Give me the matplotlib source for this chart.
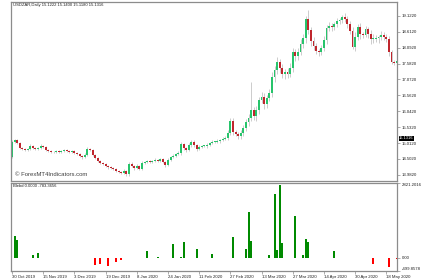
import numpy as np
import matplotlib.pyplot as plt

plt.rcParams['font.family'] = ['Liberation Sans', 'DejaVu Sans']

# daily USDZAR closes
first_open = 14.56
closes = [
    15.05, 15.11, 15.02, 14.85, 14.82, 14.79, 14.82, 14.92, 14.85, 14.82,
    14.85, 14.92, 14.89, 14.79, 14.76, 14.72, 14.72, 14.76, 14.72, 14.76,
    14.79, 14.76, 14.72, 14.76, 14.69, 14.66, 14.60, 14.56, 14.63, 14.82,
    14.79, 14.63, 14.53, 14.43, 14.37, 14.34, 14.27, 14.24, 14.21, 14.18,
    14.11, 14.08, 14.05, 14.11, 14.01, 14.34, 14.27, 14.21, 14.27, 14.18,
    14.37, 14.40, 14.43, 14.40, 14.43, 14.47, 14.43, 14.50, 14.40, 14.30,
    14.47, 14.56, 14.60, 14.66, 14.69, 14.98, 14.85, 14.79, 14.95, 15.05,
    14.95, 14.82, 14.89, 14.92, 14.92, 14.95, 15.02, 15.05, 15.05, 15.08,
    15.11, 15.15, 15.18, 15.34, 15.73, 15.37, 15.31, 15.24, 15.34, 15.50,
    15.70, 15.82, 16.08, 15.89, 16.08, 16.41, 16.50, 16.28, 16.47, 16.63,
    17.15, 17.38, 17.64, 17.44, 17.25, 17.31, 17.25, 17.44, 17.96, 17.83,
    17.96, 18.22, 18.41, 19.03, 18.67, 18.31, 18.15, 17.99, 17.96, 18.09,
    18.35, 18.73, 18.80, 18.77, 18.86, 18.96, 18.99, 19.09, 19.03, 18.86,
    18.64, 18.12, 18.44, 18.77, 18.54, 18.51, 18.70, 18.54, 18.38, 18.38,
    18.41, 18.44, 18.51, 18.44, 18.38, 17.96, 17.64, 17.60, 17.67,
]
upper_wick = [
    0.05, 0.04, 0.04, 0.03, 0.03, 0.04, 0.03, 0.05, 0.03, 0.03,
    0.04, 0.05, 0.03, 0.03, 0.04, 0.03, 0.03, 0.04, 0.03, 0.04,
    0.03, 0.04, 0.03, 0.04, 0.03, 0.03, 0.04, 0.03, 0.05, 0.06,
    0.04, 0.03, 0.04, 0.03, 0.04, 0.03, 0.04, 0.03, 0.03, 0.04,
    0.03, 0.04, 0.03, 0.05, 0.04, 0.06, 0.05, 0.04, 0.06, 0.04,
    0.05, 0.04, 0.03, 0.04, 0.03, 0.05, 0.04, 0.04, 0.03, 0.04,
    0.05, 0.04, 0.05, 0.04, 0.06, 0.07, 0.05, 0.04, 0.06, 0.05,
    0.06, 0.04, 0.05, 0.04, 0.04, 0.05, 0.04, 0.05, 0.04, 0.05,
    0.04, 0.05, 0.06, 0.08, 0.10, 0.08, 0.06, 0.07, 0.08, 0.10,
    0.08, 0.12, 0.90, 0.10, 0.12, 0.10, 0.15, 0.12, 0.10, 0.12,
    0.15, 0.12, 0.15, 0.10, 0.12, 0.10, 0.12, 0.15, 0.12, 0.10,
    0.12, 0.15, 0.12, 0.10, 0.29, 0.10, 0.12, 0.10, 0.08, 0.10,
    0.12, 0.10, 0.12, 0.10, 0.08, 0.10, 0.08, 0.06, 0.12, 0.08,
    0.10, 0.12, 0.15, 0.10, 0.12, 0.08, 0.10, 0.08, 0.12, 0.15,
    0.10, 0.08, 0.12, 0.08, 0.10, 0.08, 0.06, 0.06, 0.05,
]
lower_wick = [
    0.03, 0.04, 0.03, 0.04, 0.03, 0.03, 0.04, 0.03, 0.04, 0.03,
    0.03, 0.04, 0.03, 0.04, 0.03, 0.03, 0.04, 0.03, 0.03, 0.04,
    0.03, 0.03, 0.04, 0.03, 0.04, 0.03, 0.04, 0.05, 0.03, 0.04,
    0.04, 0.03, 0.04, 0.03, 0.04, 0.03, 0.04, 0.05, 0.03, 0.04,
    0.04, 0.03, 0.05, 0.04, 0.06, 0.05, 0.04, 0.06, 0.05, 0.04,
    0.04, 0.03, 0.04, 0.03, 0.04, 0.03, 0.04, 0.03, 0.04, 0.05,
    0.04, 0.05, 0.04, 0.05, 0.04, 0.05, 0.06, 0.05, 0.04, 0.05,
    0.05, 0.06, 0.04, 0.05, 0.04, 0.05, 0.04, 0.05, 0.04, 0.04,
    0.05, 0.04, 0.05, 0.06, 0.08, 0.10, 0.08, 0.10, 0.08, 0.10,
    0.10, 0.12, 0.10, 0.12, 0.15, 0.12, 0.10, 0.15, 0.12, 0.10,
    0.12, 0.15, 0.12, 0.15, 0.12, 0.15, 0.12, 0.10, 0.12, 0.15,
    0.12, 0.10, 0.12, 0.15, 0.12, 0.15, 0.12, 0.10, 0.12, 0.10,
    0.10, 0.12, 0.10, 0.12, 0.10, 0.08, 0.10, 0.08, 0.10, 0.12,
    0.10, 0.08, 0.12, 0.10, 0.15, 0.10, 0.08, 0.12, 0.15, 0.12,
    0.10, 0.15, 0.10, 0.08, 0.10, 0.12, 0.08, 0.06, 0.05,
]

# indicator histogram (bar index, value)
hist_idx = [1, 2, 8, 10, 17, 32, 34, 37, 40, 42, 52, 56, 62, 65, 66, 71, 77,
            85, 90, 91, 92, 99, 101, 102, 103, 104, 109, 112, 113, 114, 124,
            139, 145, 148]
hist_val = [805, 679, 101, 176, -15, -289, -226, -327, -176, -88, 252, 12,
            503, 12, 591, 327, 138, 767, 340, 1723, 629, 101, 2390, 302, 2760,
            553, 1572, 101, 704, 579, 252, -226, -365, -40]

price_ticks = [19.1220, 18.6120, 18.0920, 17.5820, 17.0720, 16.5620,
               16.0420, 15.5320, 15.0120, 14.5020, 13.9820]
last_price = 15.1316
date_idx = [0, 12, 24, 36, 48, 60, 72, 84, 96, 108, 120, 132, 144]
date_labels = ['30 Oct 2019', '15 Nov 2019', '3 Dec 2019', '19 Dec 2019',
               '8 Jan 2020', '24 Jan 2020', '11 Feb 2020', '27 Feb 2020',
               '13 Mar 2020', '27 Mar 2020', '14 Apr 2020', '30 Apr 2020',
               '18 May 2020']

closes = np.array(closes)
opens = np.array([first_open] + list(closes[:-1]))
highs = np.maximum(opens, closes) + np.array(upper_wick)
lows = np.minimum(opens, closes) - np.array(lower_wick)
x = np.arange(len(closes))
up = closes >= opens

bull = '#27c46b'
bear = '#c0262d'
frame = '#8c8c8c'

W, H = 430, 280
fig = plt.figure(figsize=(4.3, 2.8), dpi=100)
ax1 = fig.add_axes([11 / W, 1 - 181 / H, 386 / W, 179 / H])
ax2 = fig.add_axes([11 / W, 1 - 271 / H, 386 / W, 88 / H])

# candles
ax1.vlines(x, lows, highs, color='#c4c4c4', lw=0.6, zorder=1)
body = np.maximum(np.abs(closes - opens), 0.015)
ax1.bar(x, body, bottom=np.minimum(opens, closes), width=0.72,
        color=np.where(up, bull, bear), linewidth=0, zorder=2)

xlim = (-0.385, 148.1)
ax1.set_xlim(xlim)
ax1.set_ylim(13.787, 19.574)
ax1.yaxis.tick_right()
ax1.set_yticks(price_ticks, labels=[f'{p:.4f}' for p in price_ticks])
ax1.set_xticks([])

# histogram
ax2.bar(hist_idx, hist_val, width=0.75,
        color=['#008a00' if v > 0 else '#ff0000' for v in hist_val],
        linewidth=0)
ax2.set_xlim(xlim)
ax2.set_ylim(-499.8578, 2821.2016)
ax2.yaxis.tick_right()
ax2.set_yticks([2821.2016, 0, -499.8578],
               labels=['2821.2016', '0.00', '-499.8578'])
ylabs = ax2.get_yticklabels()
ylabs[0].set_va('top')
ylabs[2].set_va('bottom')
ax2.set_xticks(date_idx, labels=date_labels)
for t in ax2.get_xticklabels():
    t.set_ha('left')

for ax in (ax1, ax2):
    for s in ax.spines.values():
        s.set_color(frame)
        s.set_linewidth(0.9)
    ax.tick_params(labelsize=3.1, length=2, width=0.5, color=frame,
                   pad=1.2, labelcolor='#202020')

fig.text(13 / W, 1 - 5 / H, 'USDZAR,Daily 15.1222 15.1400 15.1180 15.1316',
         fontsize=3, va='center', color='#202020')
fig.text(15 / W, 1 - 174 / H, '\u00a9 ForexMT4Indicators.com',
         fontsize=4.3, va='center', color='#404040')
fig.text(13 / W, 1 - 186 / H, 'Blebd 0.0000 -783.3656',
         fontsize=3, va='center', color='#202020')
# current price marker on the price scale
ax1.annotate(f'{last_price:.4f}', xy=(1, last_price), xytext=(1.5, 0.8),
             xycoords=('axes fraction', 'data'), textcoords='offset points',
             fontsize=2.9, va='center', ha='left', color='white',
             bbox=dict(facecolor='black', edgecolor='none', pad=0.4),
             zorder=5)

fig.savefig('out.png', dpi=100)
